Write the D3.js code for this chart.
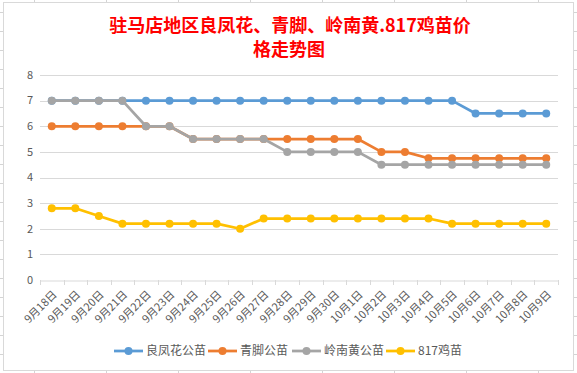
<!DOCTYPE html>
<html>
<head>
<meta charset="utf-8">
<script src="https://cdn.jsdelivr.net/npm/d3@7"></script>
<style>
  body { margin: 0; background: #fff; }
  svg { display: block; font-family: "Noto Sans CJK SC", "Noto Sans", sans-serif; }
</style>
</head>
<body>
<div id="content"></div>
<script>
// ======= data =======
var dates = ["9月18日","9月19日","9月20日","9月21日","9月22日","9月23日","9月24日","9月25日","9月26日","9月27日","9月28日","9月29日","9月30日",
             "10月1日","10月2日","10月3日","10月4日","10月5日","10月6日","10月7日","10月8日","10月9日"];
var seriesNames = ["良凤花公苗", "青脚公苗", "岭南黄公苗", "817鸡苗"];
var liangfenghua = [7,7,7,7,7,7,7,7,7,7,7,7,7,7,7,7,7,7,6.5,6.5,6.5,6.5];
var qingjiao     = [6,6,6,6,6,6,5.5,5.5,5.5,5.5,5.5,5.5,5.5,5.5,5,5,4.75,4.75,4.75,4.75,4.75,4.75];
var lingnanhuang = [7,7,7,7,6,6,5.5,5.5,5.5,5.5,5,5,5,5,4.5,4.5,4.5,4.5,4.5,4.5,4.5,4.5];
var chick817     = [2.8,2.8,2.5,2.2,2.2,2.2,2.2,2.2,2.0,2.4,2.4,2.4,2.4,2.4,2.4,2.4,2.4,2.2,2.2,2.2,2.2,2.2];
var yTicks = [0,1,2,3,4,5,6,7,8];
var colors = ["#5B9BD5", "#ED7D31", "#A5A5A5", "#FFC000"];

var allSeries = [liangfenghua, qingjiao, lingnanhuang, chick817];

// ======= layout =======
var W = 577, H = 373;
var plot = {left: 40, right: 558, top: 75, bottom: 280};
var gridColor = "#D9D9D9";
var textColor = "#595959";

var svg = d3.select("#content").append("svg")
    .attr("width", W)
    .attr("height", H);

// == spreadsheet grid behind the chart
var bg = svg.append("g").attr("stroke", "#D4D4D4").attr("stroke-width", 1);
d3.range(34, W, 72).forEach(function(x) {
    bg.append("line").attr("x1", x + 0.5).attr("x2", x + 0.5).attr("y1", 0).attr("y2", H);
});
d3.range(12, H, 19).forEach(function(y) {
    bg.append("line").attr("x1", 0).attr("x2", W).attr("y1", y + 0.5).attr("y2", y + 0.5);
});

// == chart box
svg.append("rect")
    .attr("x", 3.5).attr("y", 2.5)
    .attr("width", 570).attr("height", 368)
    .attr("fill", "#fff")
    .attr("stroke", gridColor);

// ======= title =======
var title = svg.append("text")
    .attr("text-anchor", "middle")
    .attr("fill", "#FF0000")
    .attr("font-size", "18px")
    .attr("font-weight", "bold");
title.append("tspan").attr("x", 290).attr("y", 32).text("驻马店地区良凤花、青脚、岭南黄.817鸡苗价");
title.append("tspan").attr("x", 289).attr("y", 56).text("格走势图");

// ======= scales =======
var xScale = d3.scaleBand()
    .domain(dates)
    .range([plot.left, plot.right])
    .padding(0);
var yScale = d3.scaleLinear()
    .domain([0, 8])
    .range([plot.bottom, plot.top]);
var cx = function(i) { return xScale(dates[i]) + xScale.bandwidth() / 2; };

// ======= gridlines + y labels =======
svg.append("g")
    .selectAll("line")
    .data(yTicks.filter(function(d) { return d > 0; }))
    .enter().append("line")
        .attr("x1", plot.left).attr("x2", plot.right)
        .attr("y1", function(d) { return Math.round(yScale(d)) + 0.5; })
        .attr("y2", function(d) { return Math.round(yScale(d)) + 0.5; })
        .attr("stroke", gridColor);

svg.append("g")
    .selectAll("text")
    .data(yTicks)
    .enter().append("text")
        .attr("x", 33)
        .attr("y", function(d) { return yScale(d); })
        .attr("dy", "0.35em")
        .attr("text-anchor", "end")
        .attr("font-size", "11px")
        .attr("fill", textColor)
        .text(function(d) { return d; });

// ======= x axis =======
var xAxis = svg.append("g")
    .attr("transform", "translate(0," + (Math.round(plot.bottom) + 0.5) + ")")
    .call(d3.axisBottom(xScale).tickSize(0).tickPadding(0));
xAxis.select(".domain").attr("stroke", gridColor);
xAxis.selectAll(".tick text")
    .attr("font-size", "11px")
    .attr("fill", textColor)
    .attr("font-family", "\"Noto Sans CJK SC\", sans-serif")
    .attr("text-anchor", "end")
    .attr("y", 0)
    .attr("dy", "0.35em")
    .attr("transform", "translate(3,12) rotate(-45)");

// == tick marks at category boundaries
svg.append("g")
    .selectAll("line")
    .data(d3.range(dates.length + 1))
    .enter().append("line")
        .attr("x1", function(i) { return Math.round(plot.left + i * xScale.step()) + 0.5; })
        .attr("x2", function(i) { return Math.round(plot.left + i * xScale.step()) + 0.5; })
        .attr("y1", plot.bottom)
        .attr("y2", plot.bottom + 5)
        .attr("stroke", gridColor);

// ======= lines + markers =======
var line = d3.line()
    .x(function(d, i) { return cx(i); })
    .y(function(d) { return yScale(d); });

allSeries.forEach(function(values, s) {
    var g = svg.append("g");
    g.append("path")
        .datum(values)
        .attr("d", line)
        .attr("fill", "none")
        .attr("stroke", colors[s])
        .attr("stroke-width", 2.75)
        .attr("stroke-linejoin", "round");
    g.selectAll("circle")
        .data(values)
        .enter().append("circle")
            .attr("cx", function(d, i) { return cx(i); })
            .attr("cy", function(d) { return yScale(d); })
            .attr("r", 4)
            .attr("fill", colors[s]);
});

// ======= legend =======
var legendX = [114, 208, 292, 386];
var legend = svg.append("g").attr("transform", "translate(0,351)");
seriesNames.forEach(function(name, s) {
    var item = legend.append("g").attr("transform", "translate(" + legendX[s] + ",0)");
    item.append("line")
        .attr("x1", 0).attr("x2", 29)
        .attr("y1", 0).attr("y2", 0)
        .attr("stroke", colors[s])
        .attr("stroke-width", 2.75);
    item.append("circle")
        .attr("cx", 14.5).attr("cy", 0).attr("r", 4)
        .attr("fill", colors[s]);
    item.append("text")
        .attr("x", 32).attr("y", 0)
        .attr("dy", "0.35em")
        .attr("font-size", "12px")
        .attr("fill", textColor)
        .text(name);
});
</script>
</body>
</html>
